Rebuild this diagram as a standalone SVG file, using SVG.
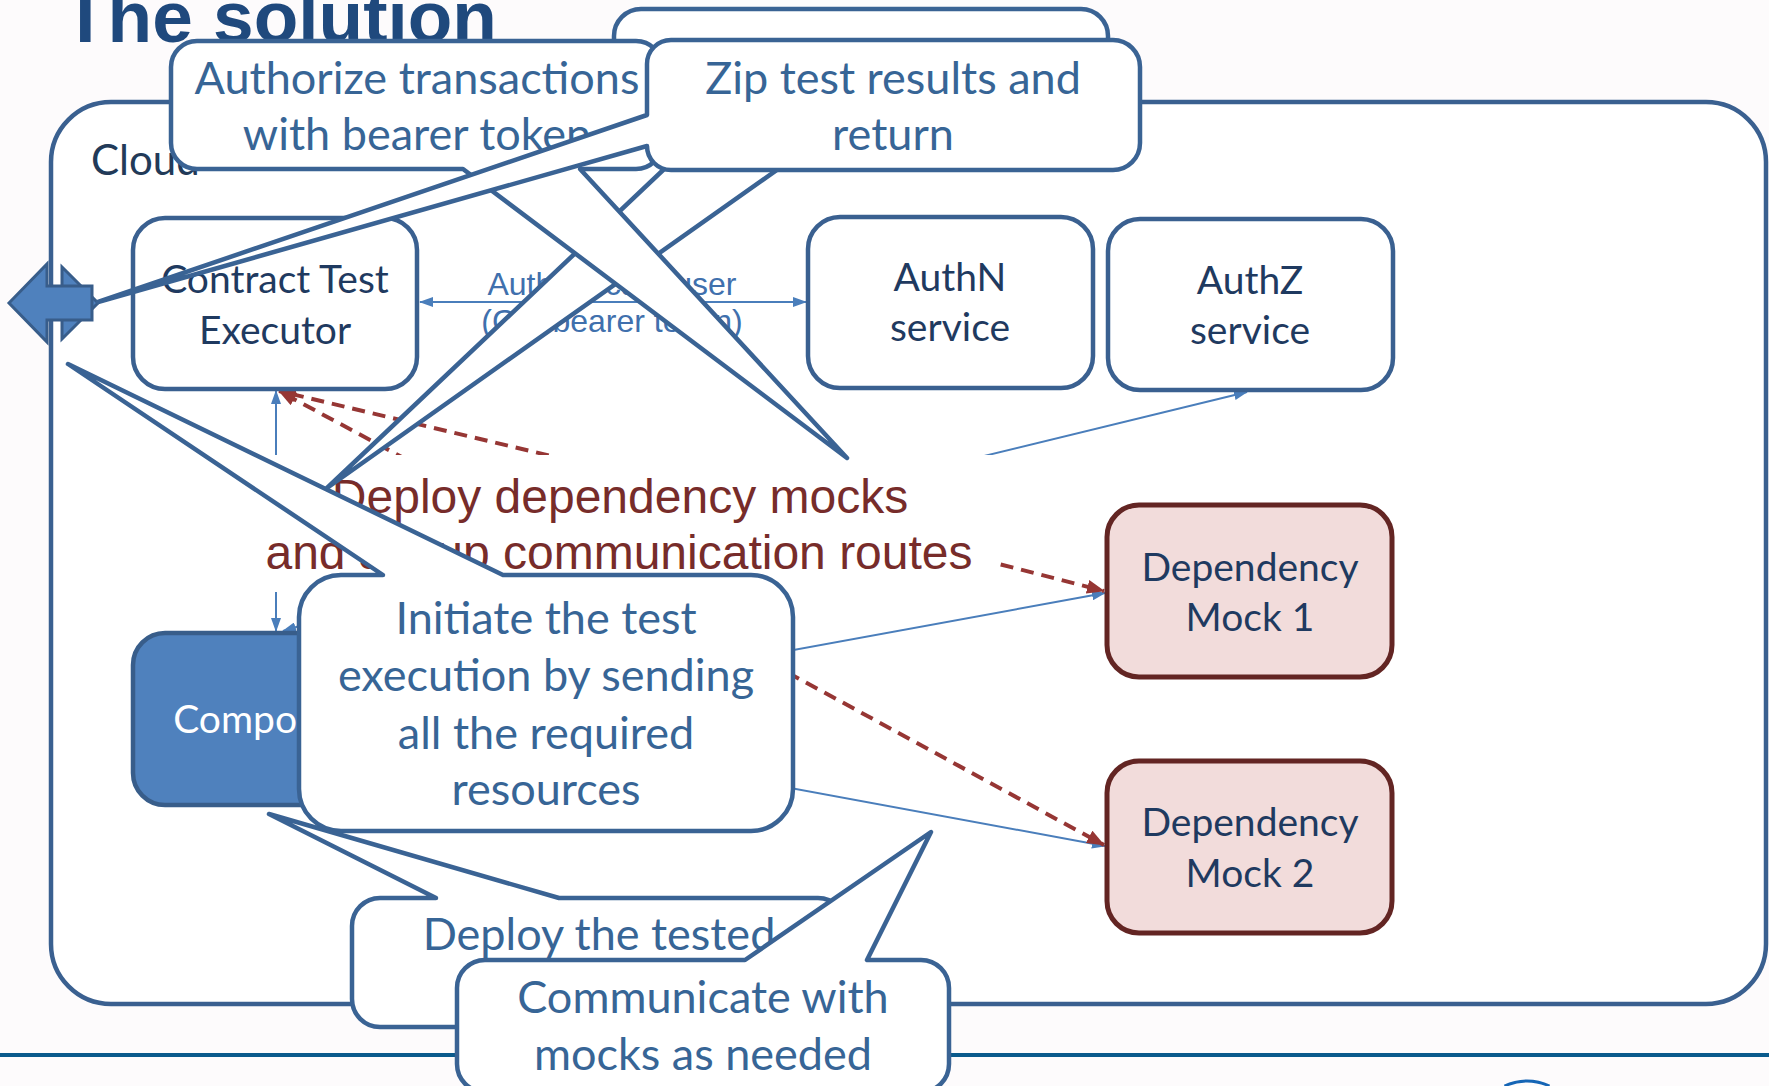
<svg xmlns="http://www.w3.org/2000/svg" width="1769" height="1086" viewBox="0 0 1769 1086">
<style>
.bg{fill:#fdfbfc}
.node rect{fill:#ffffff;stroke:#3a6090;stroke-width:4.5}
.mock rect{fill:#f2dcdb;stroke:#632523;stroke-width:5}
.comp rect{fill:#4f81bd;stroke:#385d8a;stroke-width:4.5}
.nt{font-family:Lato,'Open Sans',sans-serif;font-size:39px;fill:#1f3a60;text-anchor:middle}
.ct{font-family:Lato,'Open Sans',sans-serif;font-size:45px;fill:#376596;text-anchor:middle}
.callout{fill:#ffffff;stroke:#3a6394;stroke-width:4.5;stroke-linejoin:round}
.conn{stroke:#4a7ebb;stroke-width:2;fill:none}
.dash{stroke:#963634;stroke-width:4;stroke-dasharray:13 8;fill:none}
.lbl{font-family:'Liberation Sans',Arial,sans-serif;font-size:32px;fill:#4070ad;text-anchor:middle}
.red{font-family:'Liberation Sans',Arial,sans-serif;font-size:48px;fill:#772c2a;text-anchor:middle}
</style>
<defs>
<marker id="ab" viewBox="0 0 14 10" refX="13" refY="5" markerWidth="14" markerHeight="10" markerUnits="userSpaceOnUse" orient="auto-start-reverse"><path d="M0,0 L14,5 L0,10 z" fill="#4a7ebb"/></marker>
<marker id="ar" viewBox="0 0 18 14" refX="17" refY="7" markerWidth="18" markerHeight="14" markerUnits="userSpaceOnUse" orient="auto"><path d="M0,0 L18,7 L0,14 z" fill="#963634"/></marker>
</defs>
<rect class="bg" x="0" y="0" width="1769" height="1086"/>
<text x="63" y="42" font-family="'Liberation Sans',Arial,sans-serif" font-weight="bold" font-size="73" fill="#1f497d">The solution</text>
<g id="cloud">
<rect x="51" y="102" width="1715" height="902" rx="60" fill="#ffffff" stroke="#3a6090" stroke-width="4.5"/>
<text x="91" y="175" font-family="Lato,'Open Sans',sans-serif" font-size="42" fill="#223a58">Cloud</text>
</g>
<line x1="0" y1="1055" x2="1769" y2="1055" stroke="#0a5a8c" stroke-width="4"/>
<path d="M1504.5,1086 A53,53 0 0 1 1549.5,1086" fill="none" stroke="#1565b5" stroke-width="3"/>
<g id="connectors">
<line class="conn" x1="420" y1="302" x2="806" y2="302" marker-start="url(#ab)" marker-end="url(#ab)"/>
<text class="lbl" x="612" y="295">Authenticate user</text>
<text class="lbl" x="612" y="332">(Get bearer token)</text>
<line class="conn" x1="276" y1="631" x2="276" y2="391" marker-start="url(#ab)" marker-end="url(#ab)"/>
<line class="conn" x1="425" y1="588" x2="283" y2="631" marker-end="url(#ab)"/>
<line class="conn" x1="700" y1="525" x2="1247" y2="392" marker-end="url(#ab)"/>
<line class="conn" x1="417" y1="719" x2="1105" y2="593" marker-end="url(#ab)"/>
<line class="conn" x1="417" y1="719" x2="1105" y2="846" marker-end="url(#ab)"/>
<line class="dash" x1="610" y1="470" x2="279" y2="391" marker-end="url(#ar)"/>
<line class="dash" x1="426" y1="470" x2="279" y2="391" marker-end="url(#ar)"/>
<line class="dash" x1="960" y1="554" x2="1104" y2="591" marker-end="url(#ar)"/>
<line class="dash" x1="640" y1="592" x2="1104" y2="845" marker-end="url(#ar)"/>
</g>
<g id="contract-test-executor" class="node">
<rect x="133" y="218" width="284" height="171" rx="32"/>
<text class="nt" x="275" y="293">Contract Test</text>
<text class="nt" x="275" y="344">Executor</text>
</g>
<g id="authn-service" class="node">
<rect x="808" y="217" width="285" height="171" rx="32"/>
<text class="nt" x="950" y="291">AuthN</text>
<text class="nt" x="950" y="341">service</text>
</g>
<g id="authz-service" class="node">
<rect x="1108" y="219" width="285" height="171" rx="32"/>
<text class="nt" x="1250" y="294">AuthZ</text>
<text class="nt" x="1250" y="344">service</text>
</g>
<g id="dependency-mock-1" class="mock">
<rect x="1107" y="505" width="285" height="172" rx="32"/>
<text class="nt" x="1250" y="581">Dependency</text>
<text class="nt" x="1250" y="631">Mock 1</text>
</g>
<g id="dependency-mock-2" class="mock">
<rect x="1107" y="761" width="285" height="172" rx="32"/>
<text class="nt" x="1250" y="836">Dependency</text>
<text class="nt" x="1250" y="887">Mock 2</text>
</g>
<g id="component" class="comp">
<rect x="133" y="633" width="284" height="172" rx="32"/>
<text class="nt" x="274" y="733" style="fill:#ffffff">Component</text>
</g>
<g id="deploy-mocks-note">
<rect x="262" y="455" width="733" height="137" fill="#ffffff"/>
<text class="red" x="620" y="513">Deploy dependency mocks</text>
<text class="red" x="619" y="569">and set up communication routes</text>
</g>
<g id="external-arrow" fill="#4f81bd" stroke="#385d8a" stroke-width="3" stroke-linejoin="miter">
<polygon points="62,267 98,303 62,339"/>
<polygon points="9,303 47,264 47,286 92,286 92,320 47,320 47,342"/>
</g>
<g id="callout-top">
<path class="callout" d="M641,9 H1081 A27,27 0 0 1 1108,36 V111 A27,27 0 0 1 1081,138 H822 L327,488 L697,138 H641 A27,27 0 0 1 614,111 V36 A27,27 0 0 1 641,9 Z"/>
</g>
<g id="callout-authorize">
<path class="callout" d="M197,41 H636 A26,26 0 0 1 662,67 V143 A26,26 0 0 1 636,169 H580 L847,458 L463,169 H197 A26,26 0 0 1 171,143 V67 A26,26 0 0 1 197,41 Z"/>
<text class="ct" x="417" y="94">Authorize transactions</text>
<text class="ct" x="417" y="150">with bearer token</text>
</g>
<g id="callout-zip">
<path class="callout" d="M671,40 H1113 A27,27 0 0 1 1140,67 V143 A27,27 0 0 1 1113,170 H671 A24,24 0 0 1 647,146 L98,302 L647,115 V64 A24,24 0 0 1 671,40 Z"/>
<text class="ct" x="893" y="94">Zip test results and</text>
<text class="ct" x="893" y="150">return</text>
</g>
<g id="callout-initiate">
<path class="callout" d="M341,575 H383 L68,364 L503,575 H751 A42,42 0 0 1 793,617 V789 A42,42 0 0 1 751,831 H341 A42,42 0 0 1 299,789 V617 A42,42 0 0 1 341,575 Z"/>
<text class="ct" x="546" y="634">Initiate the test</text>
<text class="ct" x="546" y="691">execution by sending</text>
<text class="ct" x="546" y="749">all the required</text>
<text class="ct" x="546" y="805">resources</text>
</g>
<g id="callout-deploy">
<path class="callout" d="M380,898 H436 L269,814 L559,898 H818 A28,28 0 0 1 846,926 V999 A28,28 0 0 1 818,1027 H380 A28,28 0 0 1 352,999 V926 A28,28 0 0 1 380,898 Z"/>
<text class="ct" x="599" y="950">Deploy the tested</text>
</g>
<g id="callout-communicate">
<path class="callout" d="M485,960 H745 L931,832 L867,960 H921 A28,28 0 0 1 949,988 V1064 A28,28 0 0 1 921,1092 H485 A28,28 0 0 1 457,1064 V988 A28,28 0 0 1 485,960 Z"/>
<text class="ct" x="703" y="1013">Communicate with</text>
<text class="ct" x="703" y="1070">mocks as needed</text>
</g>
</svg>
